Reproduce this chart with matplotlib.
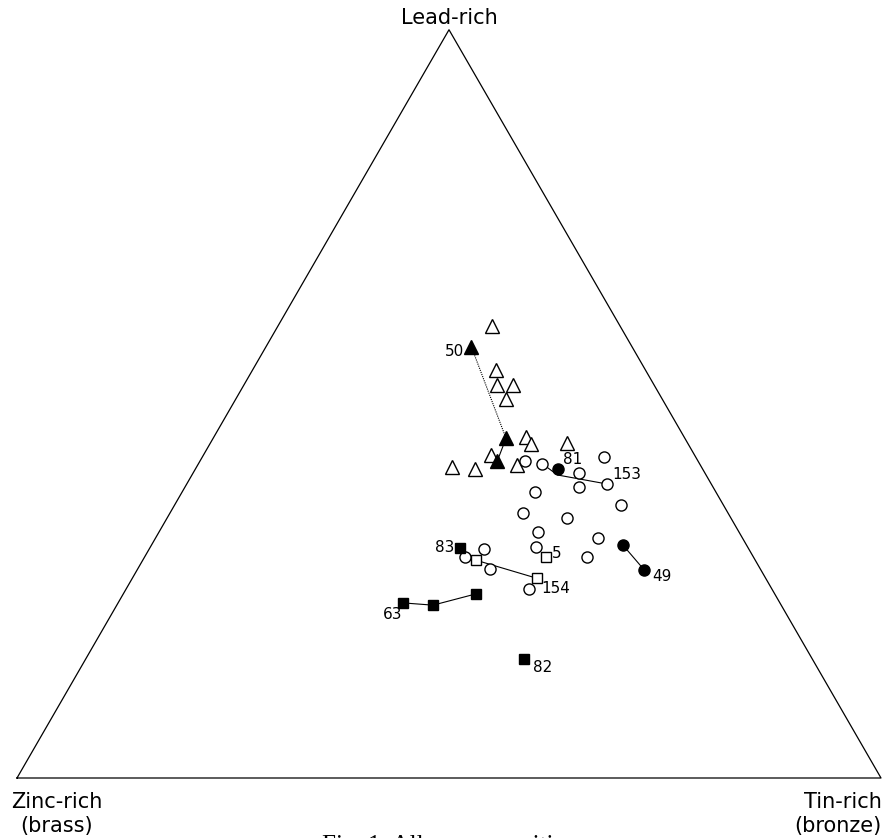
import numpy as np
import matplotlib
matplotlib.use('Agg')
import matplotlib.pyplot as plt


## --- Data: compositions (% lead, % tin; zinc is the rest) ---
# open triangles
otri_lead = [60.4, 54.5, 52.5, 52.5, 50.7, 45.6, 44.6, 44.8, 43.2, 41.6, 41.3, 41.8]
otri_tin = [24.8, 28.2, 29.3, 31.2, 31.2, 36.1, 37.2, 41.2, 33.3, 29.6, 32.4, 37.0]
# filled triangles (50 and the two linked to it)
ftri_lead = [57.6, 45.4, 42.4]
ftri_tin = [23.8, 33.9, 34.4]
ftri_names = ['50', '', '']
# open circles
ocir_lead = [42.4, 42.0, 42.9, 40.8, 38.9, 39.3, 38.2, 36.5, 35.4, 34.8, 32.9,
             32.1, 30.9, 29.5, 30.6, 29.5, 27.9, 25.3]
ocir_tin = [37.6, 39.8, 46.5, 44.7, 45.6, 48.6, 40.8, 51.6, 40.9, 46.3, 43.8,
            51.2, 44.6, 51.2, 38.8, 37.1, 40.8, 46.6]
# filled circles
fcir_lead = [41.3, 31.1, 27.8]
fcir_tin = [42.0, 54.6, 58.7]
fcir_names = ['81', '', '49']
# open squares
osq_lead = [29.1, 29.5, 26.7]
osq_tin = [38.6, 46.5, 46.8]
osq_names = ['', '5', '154']
# filled squares
fsq_lead = [30.7, 23.4, 23.1, 24.6, 15.9]
fsq_tin = [35.9, 33.0, 36.6, 40.8, 50.7]
fsq_names = ['83', '63', '', '', '82']

# tie lines between related samples
tie_dotted = [([57.6, 45.4], [23.8, 33.9])]
tie_solid = [
    ([45.4, 42.4], [33.9, 34.4]),
    ([42.0, 40.5, 39.3], [39.8, 42.3, 48.6]),
    ([31.1, 27.8], [54.6, 58.7]),
    ([29.1, 26.7], [38.6, 46.8]),
    ([23.4, 23.1, 24.6], [33.0, 36.6, 40.8]),
]
tie_153 = '153'

# label offsets in pixels
label_offsets = {'50': (-7, -4, 'right'), '81': (5, 9, 'left'), '153': (6, 9, 'left'),
                 '5': (6, 4, 'left'), '154': (5, -10, 'left'), '83': (-5, 1, 'right'),
                 '63': (-11, -12, 'center'), '82': (9, -8, 'left'), '49': (8, -7, 'left')}


def tern(lead, tin):
    lead = np.asarray(lead) / 100.0
    tin = np.asarray(tin) / 100.0
    return tin + lead / 2, lead * np.sqrt(3) / 2


plt.rcParams['font.family'] = 'DejaVu Sans'
fig = plt.figure(figsize=(8.83, 8.38), dpi=100)
ax = fig.add_axes([0, 0, 1, 1])
ax.set_xlim(-17 / 864, 866 / 864)
ax.set_ylim(-60 / 864, 778 / 864)
ax.axis('off')

# triangle outline
cx, cy = tern([0, 0, 100, 0], [0, 100, 0, 0])
ax.plot(cx, cy, color='black', lw=0.9)

for la, ti in tie_dotted:
    x, y = tern(la, ti)
    ax.plot(x, y, color='black', lw=0.8, ls=(0, (1, 1)))
for la, ti in tie_solid:
    x, y = tern(la, ti)
    ax.plot(x, y, color='black', lw=0.8)

ms_kw = dict(ls='none', markeredgecolor='black', markeredgewidth=1.0)
x, y = tern(otri_lead, otri_tin)
ax.plot(x, y, marker='^', ms=10, markerfacecolor='white', **ms_kw)
x, y = tern(ftri_lead, ftri_tin)
ax.plot(x, y, marker='^', ms=10, markerfacecolor='black', **ms_kw)
x, y = tern(ocir_lead, ocir_tin)
ax.plot(x, y, marker='o', ms=8, markerfacecolor='white', **ms_kw)
x, y = tern(fcir_lead, fcir_tin)
ax.plot(x, y, marker='o', ms=8, markerfacecolor='black', **ms_kw)
x, y = tern(osq_lead, osq_tin)
ax.plot(x, y, marker='s', ms=7.5, markerfacecolor='white', **ms_kw)
x, y = tern(fsq_lead, fsq_tin)
ax.plot(x, y, marker='s', ms=7.5, markerfacecolor='black', **ms_kw)


def label(names, lead, tin):
    xs, ys = tern(lead, tin)
    for n, xx, yy in zip(names, xs, ys):
        if not n:
            continue
        dx, dy, ha = label_offsets[n]
        ax.annotate(n, (xx, yy), xytext=(dx, dy), textcoords='offset pixels',
                    ha=ha, va='center', fontsize=11)


label(ftri_names, ftri_lead, ftri_tin)
label(fcir_names, fcir_lead, fcir_tin)
label(osq_names, osq_lead, osq_tin)
label(fsq_names, fsq_lead, fsq_tin)
label([tie_153], [39.3], [48.6])

# corner labels
ax.annotate('Lead-rich', (cx[2], cy[2]), xytext=(0, 12), textcoords='offset pixels',
            ha='center', va='center', fontsize=15)
ax.annotate('Zinc-rich\n(brass)', (cx[0], cy[0]), xytext=(40, -14), textcoords='offset pixels',
            ha='center', va='top', multialignment='center', fontsize=15, linespacing=1.25)
ax.annotate('Tin-rich\n(bronze)', (cx[1], cy[1]), xytext=(1, -14), textcoords='offset pixels',
            ha='right', va='top', multialignment='right', fontsize=15, linespacing=1.25)

# figure caption, cut by the lower edge as in the scan
fig.text(322 / 883, 1 - 835 / 838, 'Fig. 1. Alloy compositions', family='Liberation Serif',
         fontsize=18, ha='left', va='top')

fig.savefig('out.png', dpi=100)
